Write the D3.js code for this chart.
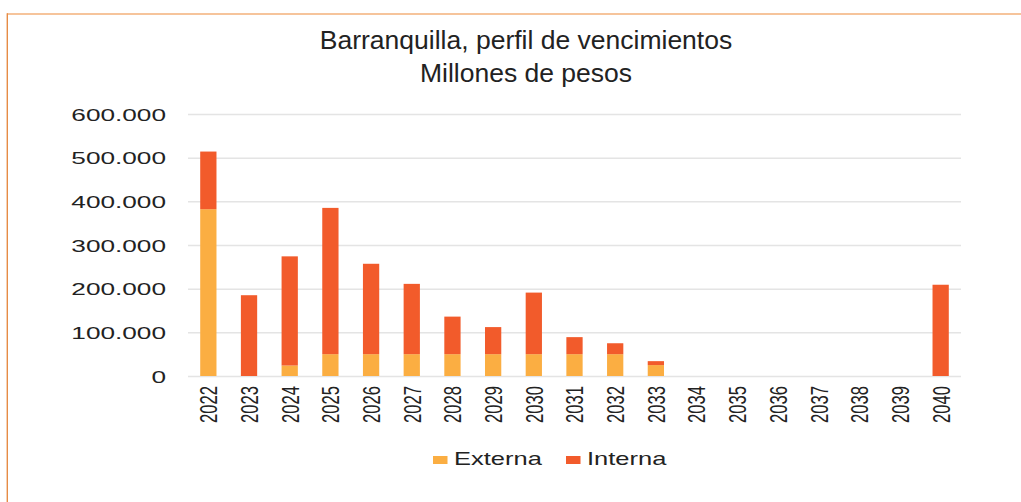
<!DOCTYPE html>
<html>
<head>
<meta charset="utf-8">
<script src="https://cdn.jsdelivr.net/npm/d3@7"></script>
<style>
  html, body { margin: 0; padding: 0; background: #fff; }
  svg { display: block; font-family: "Liberation Sans", Arial, sans-serif; }
</style>
</head>
<body>
<svg id="chart" width="1021" height="502"></svg>
<script>
// Maturity profile, millions of pesos
const years = ["2022","2023","2024","2025","2026","2027","2028","2029","2030","2031",
               "2032","2033","2034","2035","2036","2037","2038","2039","2040"];
const externa = [382000, 0, 24000, 50000, 50000, 50000, 50000, 50000, 50000, 50000,
                 50000, 25000, 0, 0, 0, 0, 0, 0, 0];
const interna = [132000, 185000, 250000, 335000, 207000, 161000, 86000, 62000, 141000, 39000,
                 25000, 9000, 0, 0, 0, 0, 0, 0, 209000];
const yTicks = [0, 100000, 200000, 300000, 400000, 500000, 600000];
const seriesNames = ["Externa", "Interna"];
const colors = ["#fbae42", "#f25b2b"];
const titleLines = ["Barranquilla, perfil de vencimientos", "Millones de pesos"];

const svg = d3.select("#chart");
const W = 1021, H = 502;
const plot = { left: 188, right: 961, top: 114, bottom: 376 };

// frame lines
svg.append("line").attr("x1", 7).attr("x2", W).attr("y1", 14).attr("y2", 14)
  .attr("stroke", "#f3b07a").attr("stroke-width", 1.6);
svg.append("line").attr("x1", 7.3).attr("x2", 7.3).attr("y1", 13.3).attr("y2", H)
  .attr("stroke", "#e68c45").attr("stroke-width", 1.4);

// title
svg.append("g").selectAll("text").data(titleLines).join("text")
  .attr("x", 526).attr("y", (d, i) => 49 + i * 33)
  .attr("text-anchor", "middle")
  .attr("font-size", 26.5)
  .attr("fill", "#222")
  .text(d => d);

const x = d3.scaleBand().domain(years).range([plot.left, plot.right])
  .paddingInner(0.6).paddingOuter(0.3);
const y = d3.scaleLinear().domain([0, 600000]).range([plot.bottom, plot.top]);

const locale = d3.formatLocale({ decimal: ",", thousands: ".", grouping: [3], currency: ["$", ""] });
const fmt = locale.format(",.0f");

// y axis with gridlines
const yAxis = svg.append("g").attr("transform", `translate(${plot.left},0)`)
  .call(d3.axisLeft(y).tickValues(yTicks).tickFormat(fmt)
    .tickSize(-(plot.right - plot.left)).tickPadding(0));
yAxis.select(".domain").remove();
yAxis.selectAll(".tick line").attr("stroke", "#e4e4e4").attr("stroke-width", 1.5);
yAxis.selectAll(".tick text")
  .attr("x", 0).attr("dy", "0.36em")
  .attr("font-size", 16.8).attr("fill", "#222")
  .attr("font-family", "Liberation Sans, Arial, sans-serif")
  .attr("transform", "translate(-22,0) scale(1.56,1)");

// stacked bars
const rows = years.map((yr, i) => ({ year: yr, Externa: externa[i], Interna: interna[i] }));
const stack = d3.stack().keys(seriesNames)(rows);
svg.append("g").selectAll("g").data(stack).join("g")
  .attr("fill", (d, i) => colors[i])
  .selectAll("rect").data(d => d.filter(s => s[1] - s[0] > 0)).join("rect")
  .attr("x", d => x(d.data.year))
  .attr("width", x.bandwidth())
  .attr("y", d => y(d[1]))
  .attr("height", d => y(d[0]) - y(d[1]));

// x axis labels, rotated
const xAxis = svg.append("g").attr("transform", `translate(0,${plot.bottom})`)
  .call(d3.axisBottom(x).tickSize(0));
xAxis.select(".domain").remove();
xAxis.selectAll(".tick text")
  .attr("x", 0).attr("y", 0).attr("dy", "0.36em")
  .attr("text-anchor", "end")
  .attr("font-size", 16.6).attr("fill", "#222")
  .attr("font-family", "Liberation Sans, Arial, sans-serif")
  .attr("transform", "translate(0,10) rotate(-90) scale(1,1.49)");

// legend
const legendX = [433, 566];
const legend = svg.append("g").selectAll("g").data(seriesNames).join("g")
  .attr("transform", (d, i) => `translate(${legendX[i]},456)`);
legend.append("rect").attr("width", 14.5).attr("height", 8)
  .attr("fill", (d, i) => colors[i]);
legend.append("text")
  .attr("x", 0).attr("y", 0)
  .attr("font-size", 17.7).attr("fill", "#222")
  .attr("transform", "translate(21,9.2) scale(1.44,1)")
  .text(d => d);
</script>
</body>
</html>
